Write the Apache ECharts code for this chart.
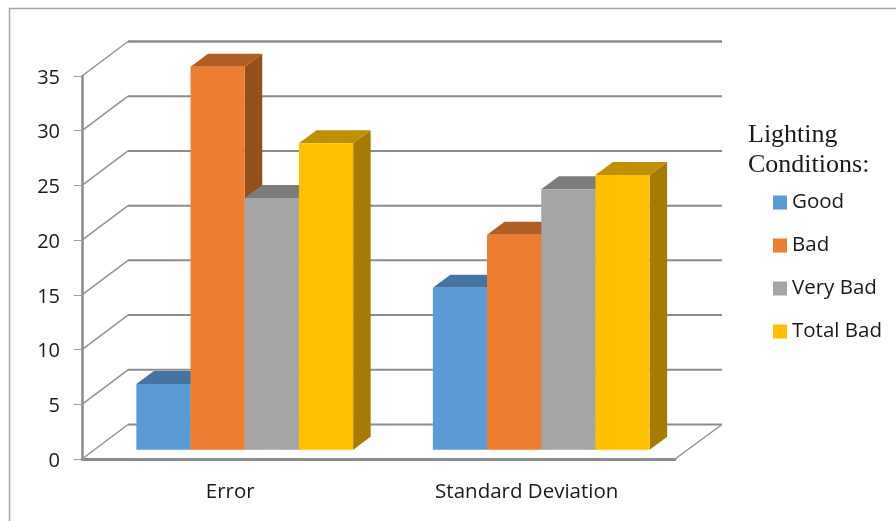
<!DOCTYPE html>
<html>
<head>
<meta charset="utf-8">
<style>html,body{margin:0;padding:0;background:#fff}#c{width:896px;height:521px}</style>
<script src="https://cdn.jsdelivr.net/npm/echarts@6/dist/echarts.min.js"></script>
</head>
<body>
<div id="c"></div>
<script>
const categories = ['Error', 'Standard Deviation'];
const seriesNames = ['Good', 'Bad', 'Very Bad', 'Total Bad'];
const good = [6, 14.8];
const bad = [35, 19.65];
const veryBad = [23, 23.8];
const totalBad = [28, 25.1];
const yTicks = [0, 5, 10, 15, 20, 25, 30, 35];

const faceColors = ['#5b9bd5', '#ed7d31', '#a5a5a5', '#ffc000'];
const topColors = ['#44749f', '#b15e25', '#7c7c7c', '#bf9000'];
const sideColors = ['#3a6690', '#94501c', '#696969', '#a67c00'];
const seriesValues = [good, bad, veryBad, totalBad];

// 3D projection used for the pseudo-perspective (pixels)
const WALL_DX = 46, WALL_DY = -34.5;
const BAR_FRONT_DY = -9.3, BAR_DEPTH_X = 17.5, BAR_DEPTH_Y = -13, BAR_SHIFT = 14.5, BAR_W = 54.2;

function wallItem(params, api) {
  const v = api.value(1);
  const band = api.size([1, 0])[0];
  const p = api.coord([0, v]);
  const x0 = p[0] - band / 2, x1 = x0 + 2 * band, y = p[1];
  const wall = v === 35 ? 2.6 : 2;
  const children = [
    { type: 'line', shape: { x1: x0 + WALL_DX, y1: y + WALL_DY, x2: x1 + WALL_DX + 1, y2: y + WALL_DY }, style: { stroke: '#8c8c8c', lineWidth: wall } },
    { type: 'line', shape: { x1: x0, y1: y, x2: x0 + WALL_DX, y2: y + WALL_DY }, style: { stroke: '#949494', lineWidth: 1.5 } }
  ];
  if (v === 0) {
    children.push({ type: 'line', shape: { x1: x1, y1: y, x2: x1 + WALL_DX + 1, y2: y + WALL_DY }, style: { stroke: '#949494', lineWidth: 1.5 } });
  }
  return { type: 'group', children };
}

function barItem(si) {
  return function (params, api) {
    const c = api.value(0), v = api.value(1);
    const base = api.coord([c, 0]);
    const top = api.coord([c, v]);
    const xl = base[0] + BAR_SHIFT + (si - 2) * BAR_W;
    const xr = xl + BAR_W;
    const yb = base[1] + BAR_FRONT_DY;
    const yt = top[1] + BAR_FRONT_DY;
    const dx = BAR_DEPTH_X, dy = BAR_DEPTH_Y;
    return {
      type: 'group',
      children: [
        { type: 'polygon', shape: { points: [[xr, yt], [xr + dx, yt + dy], [xr + dx, yb + dy], [xr, yb]] }, style: { fill: sideColors[si] } },
        { type: 'polygon', shape: { points: [[xl, yt], [xl + dx, yt + dy], [xr + dx, yt + dy], [xr, yt]] }, style: { fill: topColors[si] } },
        { type: 'rect', shape: { x: xl, y: yt, width: BAR_W, height: yb - yt }, style: { fill: faceColors[si] } }
      ]
    };
  };
}

const fam = '"Open Sans", "Noto Sans", sans-serif';

const chart = echarts.init(document.getElementById('c'), null, { renderer: 'canvas' });
chart.setOption({
  animation: false,
  backgroundColor: '#fff',
  title: {
    text: 'Lighting\nConditions:',
    left: 743, top: 115,
    textStyle: { fontFamily: '"Liberation Serif", serif', fontSize: 26, fontWeight: 'normal', color: '#1a1a1a', lineHeight: 30 }
  },
  legend: {
    orient: 'vertical',
    left: 768, top: 187,
    itemWidth: 14, itemHeight: 14, itemGap: 22, itemTextGap: 8,
    icon: 'rect',
    data: seriesNames,
    textStyle: { fontFamily: fam, fontSize: 20.5, lineHeight: 20, color: '#1a1a1a' }
  },
  grid: { left: 82, right: 221, top: 76, bottom: 62 },
  xAxis: {
    type: 'category',
    data: categories,
    axisLine: { lineStyle: { color: '#8c8c8c', width: 3 } },
    axisTick: { length: 7, lineStyle: { color: '#a0a0a0', width: 1 } },
    axisLabel: { margin: 23, fontFamily: fam, fontSize: 20.5, color: '#1a1a1a' },
    splitLine: { show: false }
  },
  yAxis: {
    type: 'value', min: 0, max: 35, interval: 5,
    axisLine: { show: true, lineStyle: { color: '#8c8c8c', width: 2.5 } },
    axisTick: { show: true, length: 8, lineStyle: { color: '#a0a0a0', width: 1 } },
    axisLabel: { margin: 22, fontFamily: fam, fontSize: 20, color: '#1a1a1a', verticalAlign: 'top', lineHeight: 4 },
    splitLine: { show: false }
  },
  graphic: [{
    type: 'polyline', silent: true, z: -1,
    shape: { points: [[9.5, 521], [9.5, 8.5], [896, 8.5]] },
    style: { stroke: '#a6a6a6', lineWidth: 1.5, fill: null }
  }],
  series: [
    { type: 'custom', name: 'walls', z: 1, silent: true, clip: false, renderItem: wallItem,
      data: yTicks.map(t => [0, t]), encode: { x: 0, y: 1 } }
  ].concat(seriesNames.map((name, si) => ({
    type: 'custom', name, z: 3 + si, clip: false,
    itemStyle: { color: faceColors[si] },
    renderItem: barItem(si),
    data: seriesValues[si].map((v, i) => [i, v]),
    encode: { x: 0, y: 1 }
  })))
});
</script>
</body>
</html>
